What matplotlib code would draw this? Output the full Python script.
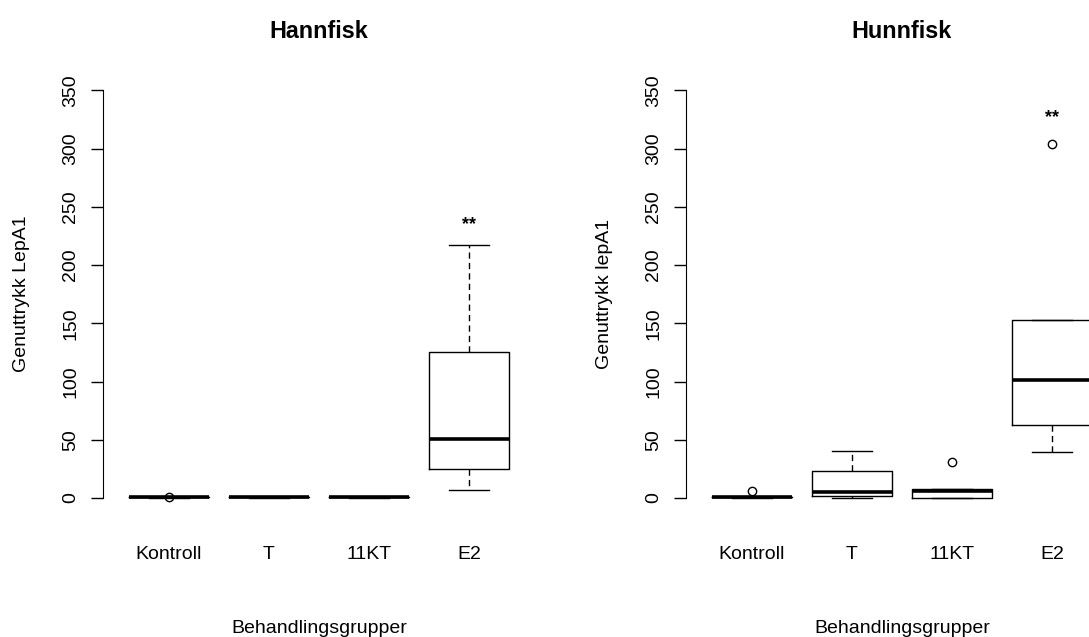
import matplotlib.pyplot as plt

plt.rcParams['font.family'] = ['Liberation Sans', 'DejaVu Sans']

groups = ['Kontroll', 'T', '11KT', 'E2']

# Hannfisk (left panel)
male_whislo = [0.3, 0.3, 0.3, 6.5]
male_q1 = [0.5, 0.5, 0.5, 25]
male_med = [0.8, 0.8, 0.8, 51]
male_q3 = [1.0, 1.0, 1.0, 125.5]
male_whishi = [1.2, 1.2, 1.2, 217.5]
male_fliers = [[0.6], [], [], []]
male_star = 235

# Hunnfisk (right panel)
female_whislo = [0.3, 0.3, 0.3, 39.5]
female_q1 = [0.5, 1.4, 0.3, 62.5]
female_med = [0.8, 4.9, 6.3, 101.5]
female_q3 = [1.0, 23.2, 7.7, 153]
female_whishi = [1.2, 40.4, 7.7, 153]
female_fliers = [[6.0], [], [30.7], [303.5]]
female_star = 327

fig = plt.figure(figsize=(10.89, 6.37), dpi=100)


def draw_panel(ax, title, ylabel, whislo, q1, med, q3, whishi, fliers, star):
    stats = []
    for i in range(len(groups)):
        stats.append(dict(whislo=whislo[i], q1=q1[i], med=med[i], q3=q3[i],
                          whishi=whishi[i], fliers=fliers[i], label=groups[i]))
    ax.bxp(stats, positions=[1, 2, 3, 4], widths=0.8, showfliers=True,
           boxprops=dict(color='black', linewidth=1.0),
           medianprops=dict(color='black', linewidth=2.6, solid_capstyle='butt'),
           whiskerprops=dict(color='black', linewidth=1.0, linestyle=(0, (4.5, 3))),
           capprops=dict(color='black', linewidth=1.0),
           flierprops=dict(marker='o', markerfacecolor='none',
                           markeredgecolor='black', markersize=6, markeredgewidth=1.0),
           capwidths=0.4)
    ax.text(4, star, '**', ha='center', va='center', fontsize=13, fontweight='bold')
    ax.set_xlim(0.34, 4.66)
    ax.set_ylim(-14, 364)
    for s in ['top', 'right', 'bottom']:
        ax.spines[s].set_visible(False)
    ax.spines['left'].set_bounds(0, 350)
    ax.set_yticks(range(0, 351, 50))
    ax.tick_params(axis='y', length=9, width=1.0, pad=8, labelsize=14)
    for lab in ax.get_yticklabels():
        lab.set_rotation(90)
        lab.set_va('center')
    ax.set_xticks([1, 2, 3, 4])
    ax.set_xticklabels(groups)
    ax.tick_params(axis='x', length=0, pad=23, labelsize=14)
    ax.set_xlabel('Behandlingsgrupper', fontsize=14, labelpad=41)
    ax.set_ylabel(ylabel, fontsize=14, labelpad=23)
    ax.set_title(title, fontsize=16.8, fontweight='bold', pad=26)


ax1 = fig.add_axes([0.0946, 0.1926, 0.3967, 0.6912])
draw_panel(ax1, 'Hannfisk', 'Genuttrykk LepA1', male_whislo, male_q1, male_med,
           male_q3, male_whishi, male_fliers, male_star)

ax2 = fig.add_axes([0.6299, 0.1926, 0.3967, 0.6912])
draw_panel(ax2, 'Hunnfisk', 'Genuttrykk lepA1', female_whislo, female_q1, female_med,
           female_q3, female_whishi, female_fliers, female_star)

fig.savefig('out.png', dpi=100)
